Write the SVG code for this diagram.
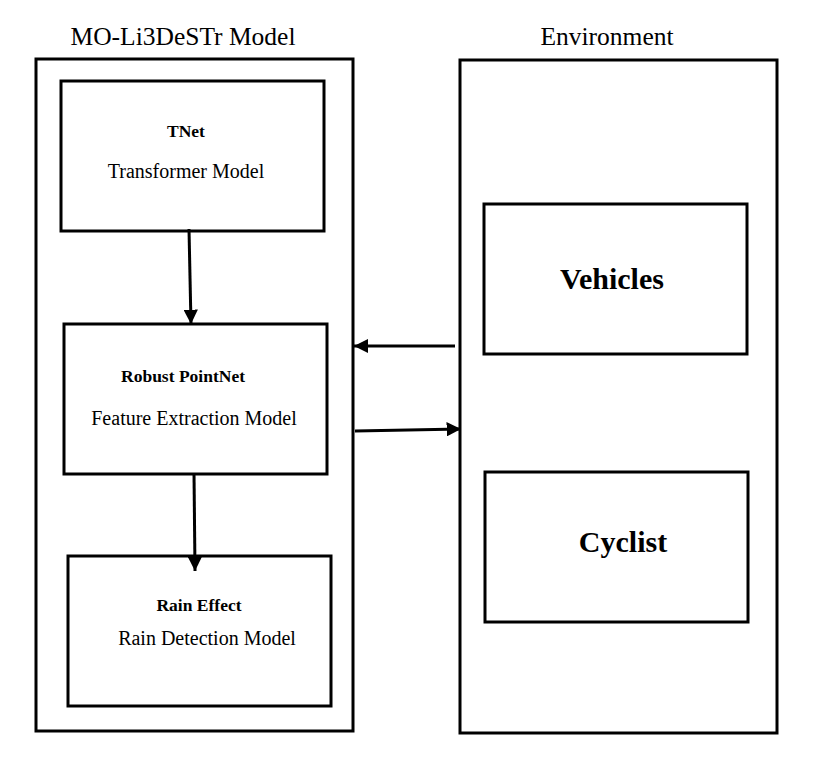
<svg xmlns="http://www.w3.org/2000/svg" width="823" height="766" viewBox="0 0 823 766">
<defs>
<style>
.box{fill:none;stroke:#000;stroke-width:3}
.t{font-family:"Liberation Serif","Times New Roman",serif;fill:#000;text-anchor:middle}
.title{font-size:25.5px}
.b{font-size:17.5px;font-weight:bold}
.r{font-size:20px}
.big{font-size:30px;font-weight:bold}
.c{stroke:#000;stroke-width:3;fill:none}
</style>
<marker id="ah" viewBox="0 0 10 10" refX="10" refY="5" markerWidth="4.8" markerHeight="4.8" markerUnits="strokeWidth" orient="auto">
<path d="M0,0 L10,5 L0,10 z" fill="#000"/>
</marker>
</defs>
<rect width="823" height="766" fill="#fff"/>
<g id="model">
<rect class="box" x="36" y="59" width="317" height="672"/>
<text class="t title" x="183" y="45">MO-Li3DeSTr Model</text>
</g>
<g id="environment">
<rect class="box" x="460" y="60" width="317" height="673"/>
<text class="t title" x="607" y="45">Environment</text>
</g>
<g id="tnet">
<rect class="box" x="61" y="81" width="263" height="150"/>
<text class="t b" x="186" y="137">TNet</text>
<text class="t r" x="186" y="178">Transformer Model</text>
</g>
<g id="pointnet">
<rect class="box" x="64" y="324" width="263" height="150"/>
<text class="t b" x="183" y="382">Robust PointNet</text>
<text class="t r" x="194" y="425">Feature Extraction Model</text>
</g>
<g id="rain">
<rect class="box" x="68" y="556" width="263" height="150"/>
<text class="t b" x="199" y="611">Rain Effect</text>
<text class="t r" x="207" y="645">Rain Detection Model</text>
</g>
<g id="vehicles">
<rect class="box" x="484" y="204" width="263" height="150"/>
<text class="t big" x="612" y="289">Vehicles</text>
</g>
<g id="cyclist">
<rect class="box" x="485" y="472" width="263" height="150"/>
<text class="t big" x="623" y="552">Cyclist</text>
</g>
<g id="connectors">
<line class="c" x1="189" y1="229" x2="191" y2="324" marker-end="url(#ah)"/>
<line class="c" x1="194" y1="473" x2="195" y2="571" marker-end="url(#ah)"/>
<line class="c" x1="455" y1="346" x2="354" y2="346" marker-end="url(#ah)"/>
<line class="c" x1="355" y1="431" x2="461" y2="429" marker-end="url(#ah)"/>
</g>
</svg>
